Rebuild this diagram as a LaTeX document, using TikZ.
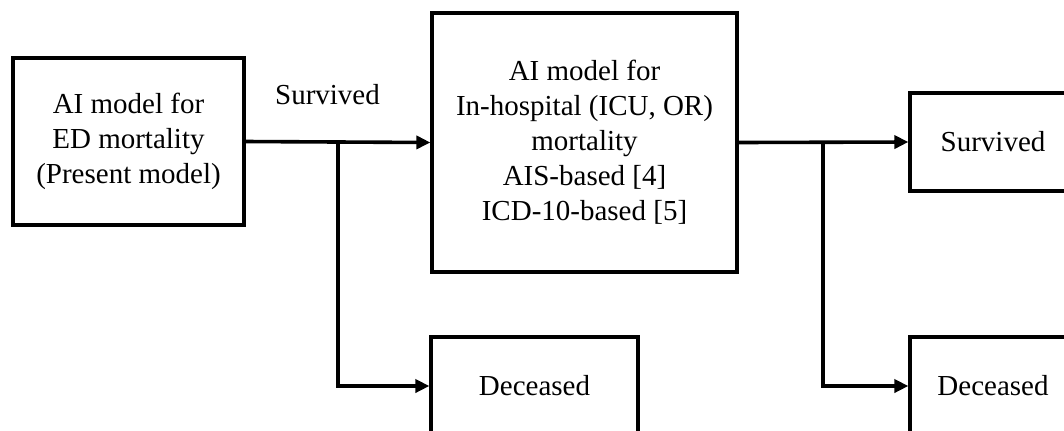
\documentclass[tikz,border=0pt]{standalone}
\usepackage{fontspec}
\setmainfont{Liberation Serif}
\usepackage{tikz}
\usetikzlibrary{arrows.meta}
\tikzset{
	main node/.style={rectangle,draw,line width=1.6pt,inner sep=0pt,align=center,
		font=\fontsize{14.5}{17.5}\selectfont},
	plain text/.style={inner sep=0pt,font=\fontsize{14.5}{17.5}\selectfont},
	flow/.style={line width=1.8pt,-{Triangle[length=7pt,width=6.5pt]}}
}

\begin{document}
\begin{tikzpicture}[x=0.5pt,y=-0.5pt]
	    \useasboundingbox (0,0) rectangle (1064,430);
	    \clip (0,0) rectangle (1064,430);
	    \node [main node,minimum width=115.5pt,minimum height=83.5pt] (ed) at (128.5,141.5)
	      {AI model for\\ED mortality\\(Present model)};
	    \node [main node,minimum width=152.5pt,minimum height=129.5pt] (hosp) at (584.5,142.5)
	      {AI model for\\In-hospital (ICU, OR)\\mortality\\AIS-based [4]\\ICD-10-based [5]};
	    \node [main node,minimum width=83pt,minimum height=49pt] (surv) at (993,142) {Survived};
	    \node [main node,minimum width=103.5pt,minimum height=49pt] (dec1) at (534.5,386) {Deceased};
	    \node [main node,minimum width=83pt,minimum height=49pt] (dec2) at (993,386) {Deceased};
	    \node [plain text,anchor=base] (lbl) at (327.5,104) {Survived};
	    \coordinate (split1) at (338,142);
	    \coordinate (split2) at (823,142);
	    % edges
	    \draw [flow] (ed.east) -- (hosp.west);
	    \draw [flow] (split1) |- (dec1.west);
	    \draw [flow] (hosp.east) -- (surv.west);
	    \draw [flow] (split2) |- (dec2.west);
\end{tikzpicture}
\end{document}
